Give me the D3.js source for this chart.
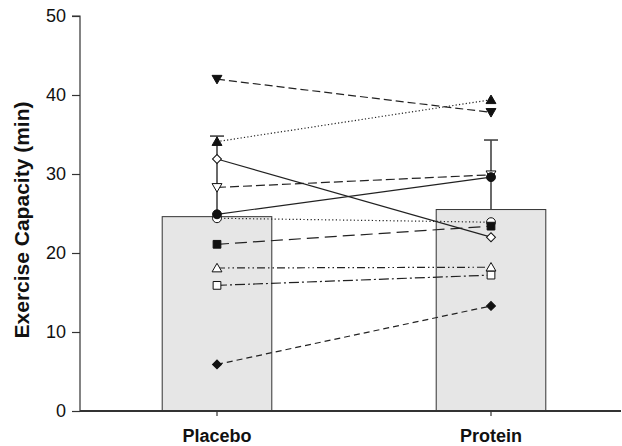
<!DOCTYPE html>
<html>
<head>
<meta charset="utf-8">
<script src="https://cdn.jsdelivr.net/npm/d3@7"></script>
<style>
  html, body { margin: 0; padding: 0; background: #fff; }
  svg { display: block; }
  text { font-family: "Liberation Sans", Arial, sans-serif; fill: #111; }
</style>
</head>
<body>
<svg id="chart" width="622" height="446"></svg>
<script>
// Conditions and group means
const groups = ["Placebo", "Protein"];
const groupMeans = [24.6, 25.5];
const groupUpper = [34.8, 34.3];

// Individual subjects: value under each condition
const placeboValues = [42.0, 34.1, 31.9, 28.3, 24.9, 24.4, 21.1, 18.1, 15.9, 5.9];
const proteinValues = [37.8, 39.4, 22.0, 29.9, 29.6, 23.9, 23.4, 18.2, 17.2, 13.3];
const subjectMarkers = ["triDownFilled", "triUpFilled", "diamondOpen", "triDownOpen", "circleFilled",
                        "circleOpen", "squareFilled", "triUpOpen", "squareOpen", "diamondFilled"];
const subjectDashes = ["8,4", "1.2,2.2", null, "9,4", null, "1.2,2.4", "12,6", "8,3,1.5,3,1.5,3", "10,3,2,3", "6,4"];

const yTicks = [0, 10, 20, 30, 40, 50];

const svg = d3.select("#chart");
const margin = { left: 80, top: 16, bottom: 411 };

const x = d3.scaleBand().domain(groups).range([80, 628]).paddingInner(0.6).paddingOuter(0.3);
const y = d3.scaleLinear().domain([0, 50]).range([411, 16]);

// Bars
svg.selectAll("rect.bar")
  .data(groups)
  .enter().append("rect")
  .attr("class", "bar")
  .attr("x", d => x(d))
  .attr("y", (d, i) => y(groupMeans[i]))
  .attr("width", x.bandwidth())
  .attr("height", (d, i) => y(0) - y(groupMeans[i]))
  .attr("fill", "#e6e6e6")
  .attr("stroke", "#333")
  .attr("stroke-width", 1);

// Error bars (upper only)
const cx = d => x(d) + x.bandwidth() / 2;
const err = svg.append("g").attr("stroke", "#444").attr("stroke-width", 1.6);
groups.forEach((g, i) => {
  err.append("line").attr("x1", cx(g)).attr("x2", cx(g))
    .attr("y1", y(groupMeans[i])).attr("y2", y(groupUpper[i]));
  err.append("line").attr("x1", cx(g) - 7).attr("x2", cx(g) + 7)
    .attr("y1", y(groupUpper[i])).attr("y2", y(groupUpper[i]));
});

// Subject lines
const subjects = placeboValues.map((v, i) => ({
  values: [v, proteinValues[i]], marker: subjectMarkers[i], dash: subjectDashes[i]
}));
const line = d3.line().x((d, i) => cx(groups[i])).y(d => y(d));
svg.append("g").selectAll("path")
  .data(subjects)
  .enter().append("path")
  .attr("d", d => line(d.values))
  .attr("fill", "none")
  .attr("stroke", "#222")
  .attr("stroke-width", 1.2)
  .attr("stroke-dasharray", d => d.dash);

// Markers
function markerShape(m) {
  if (m.startsWith("tri")) return d3.symbol().type(d3.symbolTriangle).size(42)();
  if (m.startsWith("diamond")) return d3.symbol().type(d3.symbolSquare).size(40)();
  if (m.startsWith("square")) return d3.symbol().type(d3.symbolSquare).size(60)();
  return d3.symbol().type(d3.symbolCircle).size(62)();
}
function markerRotate(m) {
  if (m.startsWith("triDown")) return 180;
  if (m.startsWith("diamond")) return 45;
  return 0;
}
const markerOrder = [5, 0, 1, 2, 3, 4, 6, 7, 8, 9];
const mg = svg.append("g");
markerOrder.forEach(si => {
  const s = subjects[si];
  s.values.forEach((v, i) => {
    mg.append("path")
      .attr("d", markerShape(s.marker))
      .attr("transform", `translate(${cx(groups[i])},${y(v) + (s.marker.startsWith("triUp") ? 1 : s.marker.startsWith("triDown") ? -1 : 0)}) rotate(${markerRotate(s.marker)})`)
      .attr("fill", s.marker.endsWith("Filled") ? "#111" : "#fff")
      .attr("stroke", "#111")
      .attr("stroke-width", 1);
  });
});

// Y axis
const yAxis = d3.axisLeft(y).tickValues(yTicks).tickSize(8).tickPadding(6);
const ya = svg.append("g").attr("transform", "translate(80,0)").call(yAxis);
ya.select(".domain").attr("stroke", "#333").attr("stroke-width", 1.2).attr("d", `M-8,${y(50)}H0V${y(0)}`);
ya.selectAll(".tick line").attr("stroke", "#333").attr("stroke-width", 1.2);
ya.selectAll(".tick text").attr("font-size", 18).attr("font-family", "Liberation Sans, Arial, sans-serif").attr("fill", "#111");

// X axis
const xa = svg.append("g").attr("transform", `translate(0,${y(0)})`);
xa.append("line").attr("x1", 80).attr("x2", 621).attr("y1", 0).attr("y2", 0)
  .attr("stroke", "#333").attr("stroke-width", 1.8);
groups.forEach(g => {
  xa.append("line").attr("x1", cx(g)).attr("x2", cx(g)).attr("y1", 0).attr("y2", 5)
    .attr("stroke", "#333").attr("stroke-width", 1.2);
  xa.append("text").attr("x", cx(g)).attr("y", 31)
    .attr("text-anchor", "middle").attr("font-size", 18).attr("font-weight", "bold").text(g);
});

// Y axis title
svg.append("text")
  .attr("transform", `translate(29,220) rotate(-90)`)
  .attr("text-anchor", "middle")
  .attr("font-size", 21)
  .attr("font-weight", "bold")
  .text("Exercise Capacity (min)");
</script>
</body>
</html>
